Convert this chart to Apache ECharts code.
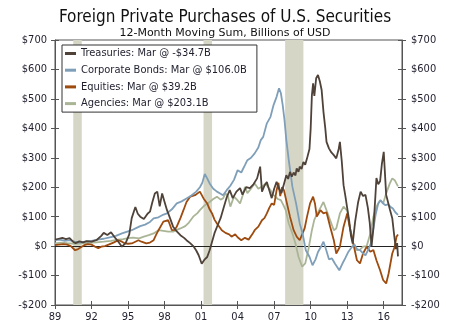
<!DOCTYPE html>
<html>
<head>
<meta charset="utf-8">
<script src="https://cdn.jsdelivr.net/npm/echarts@6/dist/echarts.min.js"></script>
<style>
html,body{margin:0;padding:0;background:#fff;}
#chart{width:450px;height:325px;}
</style>
</head>
<body>
<div id="chart"></div>
<script>
// ---- Data (fractional year, billions USD) ----
const titleText = 'Foreign Private Purchases of U.S. Securities';
const subtitleText = '12-Month Moving Sum, Billions of USD';
const seriesNames = [
  'Treasuries: Mar @ -$34.7B',
  'Corporate Bonds: Mar @ $106.0B',
  'Equities: Mar @ $39.2B',
  'Agencies: Mar @ $203.1B'
];
const xTickYears = [1989, 1992, 1995, 1998, 2001, 2004, 2007, 2010, 2013, 2016];
const yTicks = [-200, -100, 0, 100, 200, 300, 400, 500, 600, 700];
const recessions = [[1990.5, 1991.2], [2001.2, 2001.9], [2007.9, 2009.4]];

const treasuries = [
  [1989.0,22],[1989.3,25],[1989.6,28],[1989.9,24],[1990.2,27],[1990.5,14],[1990.7,10],[1991.0,16],
  [1991.3,13],[1991.6,17],[1992.0,15],[1992.4,20],[1992.8,35],[1993.0,45],[1993.3,38],[1993.6,47],
  [1993.9,30],[1994.2,15],[1994.5,-2],[1994.8,10],[1995.1,40],[1995.3,95],[1995.6,133],[1995.8,110],
  [1996.0,100],[1996.3,92],[1996.6,110],[1996.8,117],[1997.0,150],[1997.2,179],[1997.4,185],[1997.6,135],
  [1997.8,179],[1998.0,150],[1998.2,122],[1998.4,100],[1998.7,66],[1999.0,50],[1999.3,37],[1999.6,28],
  [1999.8,20],[2000.1,10],[2000.4,-2],[2000.6,-15],[2000.8,-31],[2001.05,-60],[2001.3,-45],[2001.5,-37],
  [2001.7,-14],[2001.9,15],[2002.1,44],[2002.35,70],[2002.6,95],[2002.85,130],[2003.1,165],[2003.35,190],
  [2003.6,163],[2003.9,185],[2004.2,197],[2004.4,175],[2004.7,200],[2005.0,197],[2005.3,210],[2005.6,230],
  [2005.85,270],[2006.0,185],[2006.2,205],[2006.4,218],[2006.6,190],[2006.8,163],[2007.0,195],[2007.2,218],
  [2007.4,195],[2007.6,180],[2007.8,210],[2008.0,241],[2008.15,228],[2008.3,252],[2008.45,236],[2008.6,250],
  [2008.75,240],[2008.85,264],[2009.0,252],[2009.1,270],[2009.25,262],[2009.4,286],[2009.55,276],[2009.7,298],
  [2009.9,330],[2010.0,400],[2010.1,513],[2010.2,553],[2010.3,510],[2010.45,570],
  [2010.6,581],[2010.75,560],[2010.9,530],[2011.05,456],[2011.2,400],[2011.3,354],[2011.5,332],[2011.7,318],
  [2011.9,309],[2012.1,298],[2012.3,330],[2012.4,354],[2012.55,290],[2012.7,207],[2012.85,170],[2013.0,129],
  [2013.15,90],[2013.3,37],[2013.45,9],[2013.65,83],[2013.9,150],[2014.1,185],[2014.3,170],[2014.5,174],
  [2014.7,129],[2014.85,80],[2015.0,0],[2015.15,60],[2015.3,160],[2015.4,231],[2015.55,210],[2015.7,220],
  [2015.85,280],[2016.0,320],[2016.2,174],[2016.35,150],[2016.5,125],[2016.7,95],[2016.85,40],[2017.0,-10],
  [2017.1,10],[2017.17,-34.7]
];
const corporateBonds = [
  [1989.0,20],[1989.4,22],[1989.8,18],[1990.2,20],[1990.6,15],[1991.0,12],[1991.5,15],[1992.0,18],
  [1992.5,22],[1993.0,25],[1993.5,30],[1994.0,35],[1994.5,43],[1995.0,50],[1995.3,54],[1995.7,62],
  [1996.0,68],[1996.4,73],[1996.8,82],[1997.1,94],[1997.5,98],[1997.8,105],[1998.2,111],[1998.6,125],
  [1999.0,145],[1999.4,152],[1999.8,162],[2000.2,172],[2000.6,185],[2000.9,200],[2001.1,215],[2001.3,245],
  [2001.5,230],[2001.7,213],[2002.0,195],[2002.3,185],[2002.6,178],[2002.8,173],[2003.1,190],[2003.4,205],
  [2003.7,225],[2004.0,258],[2004.3,250],[2004.6,275],[2004.8,292],[2005.1,300],[2005.4,315],[2005.7,335],
  [2005.9,360],[2006.1,371],[2006.4,417],[2006.7,439],[2006.95,479],[2007.2,507],[2007.4,536],[2007.55,520],
  [2007.7,480],[2007.85,428],[2008.0,360],[2008.2,292],[2008.5,201],[2008.8,145],[2009.1,77],[2009.35,40],
  [2009.6,-14],[2009.9,-36],[2010.15,-65],[2010.4,-45],[2010.6,-20],[2010.85,-2],[2011.05,15],[2011.25,-10],
  [2011.5,-45],[2011.75,-42],[2012.0,-60],[2012.35,-82],[2012.6,-60],[2012.85,-40],[2013.1,-19],[2013.4,-2],
  [2013.6,5],[2013.8,-10],[2014.05,-14],[2014.3,-25],[2014.5,-31],[2014.75,-10],[2014.95,10],[2015.15,60],
  [2015.35,110],[2015.55,145],[2015.75,156],[2015.95,145],[2016.15,139],[2016.35,142],[2016.55,134],[2016.75,128],
  [2016.95,115],[2017.17,106.0]
];
const equities = [
  [1989.0,3],[1989.3,5],[1989.7,7],[1990.0,5],[1990.3,0],[1990.65,-14],[1990.9,-10],[1991.1,-5],
  [1991.4,3],[1991.7,7],[1992.0,5],[1992.3,-2],[1992.55,-7],[1992.8,-2],[1993.1,0],[1993.4,5],
  [1993.8,12],[1994.2,20],[1994.5,15],[1994.75,9],[1995.0,8],[1995.3,9],[1995.6,15],[1995.85,20],
  [1996.1,15],[1996.5,9],[1996.8,12],[1997.1,20],[1997.3,38],[1997.5,54],[1997.9,83],[1998.3,88],
  [1998.6,54],[1998.8,55],[1999.0,66],[1999.3,95],[1999.55,122],[1999.8,150],[2000.1,168],[2000.5,173],
  [2000.9,185],[2001.05,188],[2001.2,162],[2001.5,145],[2001.7,125],[2001.9,111],[2002.1,90],[2002.3,77],
  [2002.7,54],[2003.0,45],[2003.3,40],[2003.5,32],[2003.8,40],[2004.0,30],[2004.3,20],[2004.6,28],
  [2004.9,22],[2005.2,40],[2005.4,54],[2005.7,66],[2006.0,88],[2006.2,95],[2006.4,111],[2006.6,130],
  [2006.8,145],[2007.0,140],[2007.2,190],[2007.35,215],[2007.5,170],[2007.65,200],[2007.8,190],[2008.05,145],
  [2008.3,100],[2008.6,54],[2008.85,32],[2009.1,20],[2009.3,40],[2009.5,60],[2009.7,100],[2009.95,145],
  [2010.2,168],[2010.35,145],[2010.5,100],[2010.8,122],[2011.05,111],[2011.3,115],[2011.6,66],[2011.9,20],
  [2012.1,-25],[2012.4,-2],[2012.7,66],[2013.0,111],[2013.2,66],[2013.5,9],[2013.8,-48],[2014.05,-59],
  [2014.3,-25],[2014.6,-2],[2014.9,-19],[2015.15,-13],[2015.4,-48],[2015.7,-82],[2015.95,-115],[2016.2,-127],
  [2016.4,-93],[2016.7,-25],[2016.9,-2],[2017.05,32],[2017.17,39.2]
];
const agencies = [
  [1989.0,9],[1989.5,12],[1990.0,10],[1990.6,8],[1991.2,9],[1991.8,11],[1992.4,13],[1993.0,15],
  [1993.6,18],[1994.2,22],[1994.6,24],[1995.0,27],[1995.4,29],[1995.9,26],[1996.3,32],[1996.7,37],
  [1997.1,43],[1997.5,54],[1997.9,52],[1998.3,49],[1998.7,49],[1999.0,55],[1999.3,60],[1999.7,68],
  [2000.0,80],[2000.35,100],[2000.7,112],[2000.9,122],[2001.3,139],[2001.7,150],[2002.0,160],[2002.3,168],
  [2002.6,158],[2002.8,162],[2003.0,179],[2003.2,170],[2003.4,134],[2003.7,168],[2004.0,155],[2004.2,145],
  [2004.4,170],[2004.6,201],[2004.8,180],[2005.0,190],[2005.4,213],[2005.7,195],[2005.9,200],[2006.1,205],
  [2006.3,213],[2006.5,200],[2006.7,190],[2006.9,175],[2007.1,168],[2007.3,160],[2007.55,156],[2007.75,140],
  [2007.95,122],[2008.2,77],[2008.5,43],[2008.75,9],[2009.0,-36],[2009.3,-70],[2009.55,-59],[2009.8,-14],
  [2010.1,54],[2010.3,90],[2010.55,111],[2010.85,134],[2011.05,150],[2011.3,122],[2011.6,88],[2011.9,54],
  [2012.1,60],[2012.4,111],[2012.7,134],[2013.0,120],[2013.2,66],[2013.5,9],[2013.8,-14],[2014.05,-12],
  [2014.3,-2],[2014.6,0],[2014.9,43],[2015.15,100],[2015.4,134],[2015.7,156],[2015.95,145],[2016.2,179],
  [2016.5,213],[2016.7,230],[2016.9,224],[2017.17,203.1]
];

// ---- Styles ----
const FONT = "'DejaVu Sans Condensed', 'DejaVu Sans', sans-serif";
const FONT_WIDE = "'DejaVu Sans', sans-serif";
const TXT = '#1f1f2e';
const AXIS = '#555555';
const colors = ['#4e4239', '#7f9fb9', '#9e4b0f', '#aab596'];
const X_MIN = 1989, X_MAX = 2017.5, Y_MIN = -200, Y_MAX = 700;

const yFmt = v => v < 0 ? '-$' + Math.abs(v) : '$' + v;
const xFmt = v => xTickYears.indexOf(Math.round(v)) >= 0 && Math.abs(v - Math.round(v)) < 1e-6
  ? String(Math.round(v) % 100).padStart(2, '0') : '';

function yAxisDef(pos, showLabel, inside) {
  return {
    type: 'value', position: pos, min: Y_MIN, max: Y_MAX, interval: 100,
    axisLine: { show: showLabel, lineStyle: { color: AXIS, width: 1 } },
    axisTick: { show: true, inside: inside, length: 4, lineStyle: { color: AXIS } },
    axisLabel: { show: showLabel, formatter: yFmt, color: TXT, fontFamily: FONT, fontSize: 11,
      margin: pos === 'left' ? 8 : 9 },
    splitLine: { show: false }
  };
}
function xAxisDef(showLabel, inside) {
  return {
    type: 'value', position: 'bottom', min: X_MIN, max: X_MAX, interval: 3,
    axisLine: { show: showLabel, onZero: false, lineStyle: { color: AXIS, width: 1 } },
    axisTick: { show: true, inside: inside, length: 4, lineStyle: { color: AXIS } },
    axisLabel: { show: showLabel, formatter: xFmt, color: TXT, fontFamily: FONT, fontSize: 11,
      margin: 7, showMaxLabel: false },
    splitLine: { show: false }
  };
}

const dataSets = [treasuries, corporateBonds, equities, agencies];
const series = dataSets.map((d, i) => ({
  name: seriesNames[i], type: 'line', data: d, xAxisIndex: 0, yAxisIndex: 0,
  showSymbol: false, symbol: 'none', smooth: false,
  lineStyle: { color: colors[i], width: 1.8 }, itemStyle: { color: colors[i] },
  z: 10 - i, silent: true
}));
// recession shading and zero line
series.push({
  name: 'bg', type: 'line', data: [], xAxisIndex: 0, yAxisIndex: 0, silent: true,
  markArea: { silent: true, itemStyle: { color: '#d6d6c7' },
    data: recessions.map(r => [{ xAxis: r[0] }, { xAxis: r[1] }]) },
  markLine: { silent: true, symbol: 'none', label: { show: false },
    lineStyle: { color: '#222', width: 1, type: 'solid' }, data: [{ yAxis: 0 }] },
  z: 1
});

const chart = echarts.init(document.getElementById('chart'), null, { renderer: 'canvas' });
chart.setOption({
  animation: false,
  backgroundColor: '#fff',
  title: [
    { text: titleText, left: 'center', top: 4,
      textStyle: { fontFamily: FONT, fontSize: 17, fontWeight: 'normal', color: '#111' } },
    { text: subtitleText, left: 'center', top: 23,
      textStyle: { fontFamily: FONT_WIDE, fontSize: 11, fontWeight: 'normal', color: '#111' } }
  ],
  grid: { left: 55, right: 48, top: 40, bottom: 20, show: true, borderColor: AXIS, borderWidth: 1,
    backgroundColor: 'transparent' },
  legend: {
    data: seriesNames, orient: 'vertical', left: 62, top: 45,
    backgroundColor: '#fff', borderColor: '#333', borderWidth: 1,
    padding: [2, 10, 2, 3], itemGap: 3.7, itemWidth: 11, itemHeight: 3,
    icon: 'rect', selectedMode: false,
    textStyle: { fontFamily: FONT, fontSize: 11, color: TXT, lineHeight: 13 }
  },
  xAxis: [xAxisDef(true, false), xAxisDef(false, true)],
  yAxis: [yAxisDef('left', true, false), yAxisDef('right', true, false),
          yAxisDef('left', false, true), yAxisDef('right', false, true)],
  series: series
});
</script>
</body>
</html>
